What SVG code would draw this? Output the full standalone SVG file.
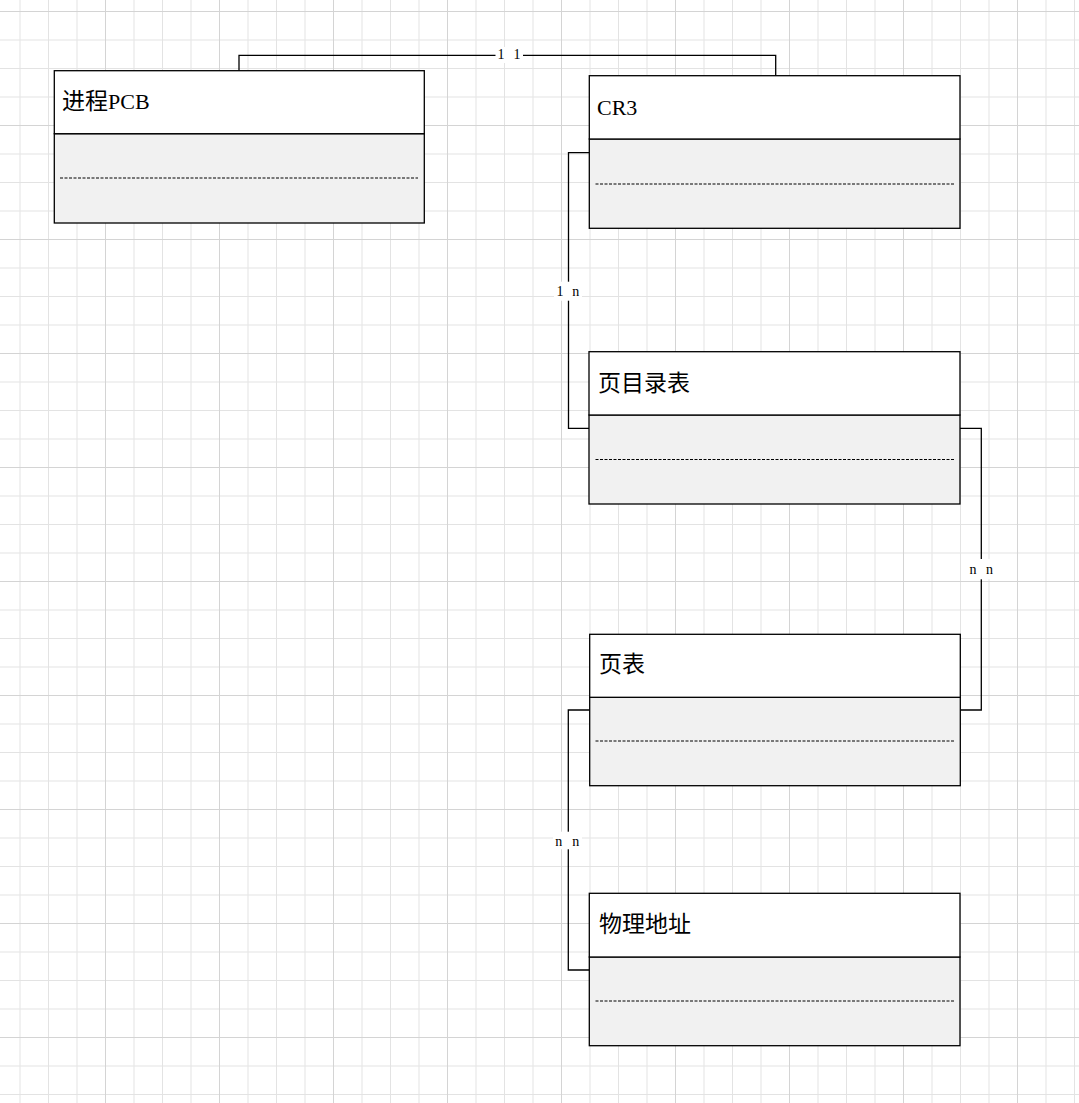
<svg xmlns="http://www.w3.org/2000/svg" width="1079" height="1103" viewBox="0 0 1079 1103">
<defs>
<pattern id="grid" patternUnits="userSpaceOnUse" x="-9" y="11" width="114" height="114">
<rect x="28.5" y="0" width="1" height="114" fill="#e3e3e3"/>
<rect x="57" y="0" width="1" height="114" fill="#e3e3e3"/>
<rect x="85.5" y="0" width="1" height="114" fill="#e3e3e3"/>
<rect x="0" y="28.5" width="114" height="1" fill="#e3e3e3"/>
<rect x="0" y="57" width="114" height="1" fill="#e3e3e3"/>
<rect x="0" y="85.5" width="114" height="1" fill="#e3e3e3"/>
<rect x="0" y="0" width="1" height="114" fill="#d4d4d4"/>
<rect x="0" y="0" width="114" height="1" fill="#d4d4d4"/>
</pattern>
</defs>
<style>
.hdr{fill:#ffffff;stroke:#000;stroke-width:1.3}
.body{fill:#f1f1f1;stroke:#000;stroke-width:1.3}
.sep{stroke:#000;stroke-width:1;stroke-dasharray:3 1.5;fill:none}
.title{font-family:"Liberation Serif","Noto Sans CJK SC",serif;font-size:22px;fill:#000}
.cjk{font-size:23px}
.edge{fill:none;stroke:#000;stroke-width:1.3}
.lblbg{fill:#ffffff}
.lbl{font-family:"Liberation Serif","Noto Sans CJK SC",serif;font-size:14px;fill:#000;text-anchor:middle}
</style>
<rect x="0" y="0" width="1079" height="1103" fill="#ffffff"/>
<rect x="0" y="0" width="1079" height="1103" fill="url(#grid)"/>

<g id="connectors">
<polyline class="edge" points="239,70.7 239,55.3 775.7,55.3 775.7,75.7"/>
<polyline class="edge" points="589.3,152.7 568.5,152.7 568.5,428.3 589,428.3"/>
<polyline class="edge" points="960,428.3 981.3,428.3 981.3,710 960.3,710"/>
<polyline class="edge" points="589.7,710 568.3,710 568.3,970 589.3,970"/>
<rect class="lblbg" x="495.5" y="47" width="27.5" height="16"/>
<text class="lbl" x="501" y="59">1</text>
<text class="lbl" x="517" y="59">1</text>
<rect class="lblbg" x="554" y="281.7" width="28" height="19"/>
<text class="lbl" x="560" y="295.5">1</text>
<text class="lbl" x="575.7" y="295.5">n</text>
<rect class="lblbg" x="966" y="559" width="31" height="20.3"/>
<text class="lbl" x="973" y="574">n</text>
<text class="lbl" x="989.5" y="574">n</text>
<rect class="lblbg" x="553" y="831.7" width="29" height="17.6"/>
<text class="lbl" x="558.7" y="845.7">n</text>
<text class="lbl" x="575.8" y="845.7">n</text>
</g>

<g id="node-pcb">
<rect class="body" x="54.3" y="133.7" width="370" height="89.3"/>
<rect class="hdr" x="54.3" y="70.7" width="370" height="63"/>
<line class="sep" x1="60" y1="178" x2="418" y2="178"/>
<text class="title" x="62" y="109"><tspan class="cjk">进程</tspan>PCB</text>
</g>

<g id="node-cr3">
<rect class="body" x="589.3" y="139" width="370.7" height="89.3"/>
<rect class="hdr" x="589.3" y="75.7" width="370.7" height="63.3"/>
<line class="sep" x1="595.5" y1="184" x2="954" y2="184"/>
<text class="title" x="597" y="115">CR3</text>
</g>

<g id="node-pagedir">
<rect class="body" x="589" y="415" width="371" height="89"/>
<rect class="hdr" x="589" y="351.7" width="371" height="63.3"/>
<line class="sep" x1="595.5" y1="459.5" x2="954" y2="459.5"/>
<text class="title cjk" x="598" y="391">页目录表</text>
</g>

<g id="node-pagetable">
<rect class="body" x="589.7" y="697.3" width="370.6" height="88.4"/>
<rect class="hdr" x="589.7" y="634.3" width="370.6" height="63"/>
<line class="sep" x1="595.5" y1="741" x2="954" y2="741"/>
<text class="title cjk" x="599" y="672">页表</text>
</g>

<g id="node-phys">
<rect class="body" x="589.3" y="957" width="370.7" height="88.7"/>
<rect class="hdr" x="589.3" y="893.3" width="370.7" height="63.7"/>
<line class="sep" x1="595.5" y1="1001" x2="954" y2="1001"/>
<text class="title cjk" x="599" y="932">物理地址</text>
</g>
</svg>
